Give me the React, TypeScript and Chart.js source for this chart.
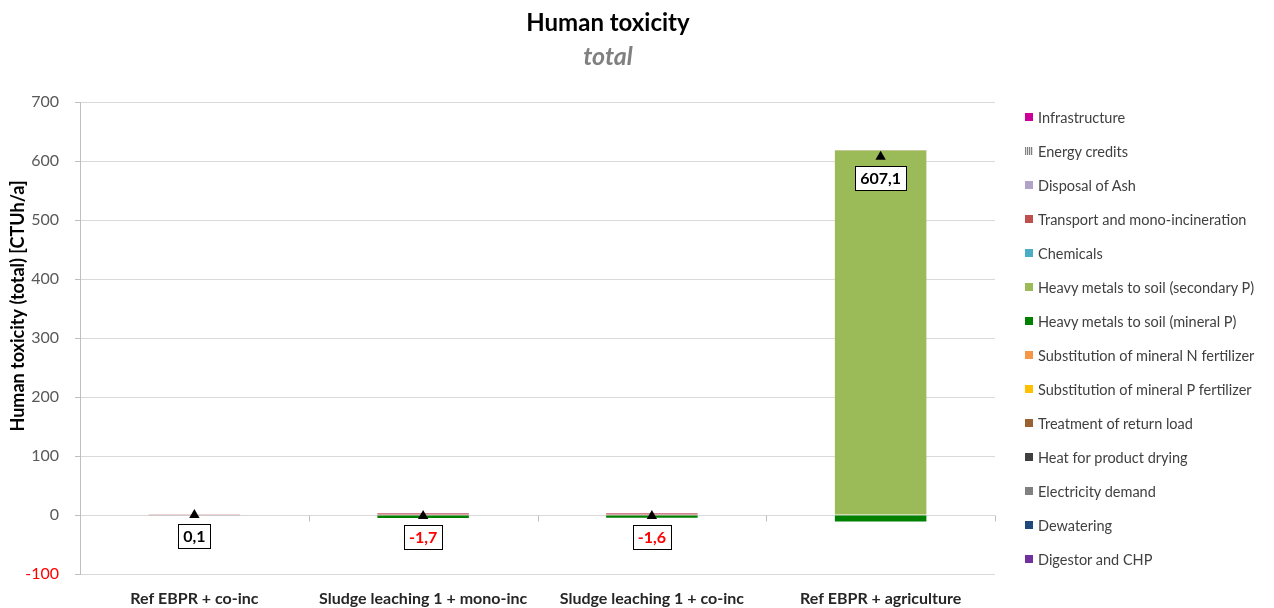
import React, { useEffect, useRef } from "react";
import { Chart, registerables } from "chart.js";

Chart.register(...registerables);

const categories = [
  "Ref EBPR + co-inc",
  "Sludge leaching 1 + mono-inc",
  "Sludge leaching 1 + co-inc",
  "Ref EBPR + agriculture",
];

// Stack order (bottom series first)
const digestorCHP = [0, 0, 0, 0];
const dewatering = [0, 0, 0, 0];
const electricityDemand = [0, 0, 0, 0];
const heatProductDrying = [0, 0, 0, 0];
const treatmentReturnLoad = [0, 0, 0, 0];
const substitutionP = [0, 0, 0, 0];
const substitutionN = [0, 0, 0, 0];
const heavyMetalsMineral = [0, -5.0, -4.8, -11.2];
const heavyMetalsSecondary = [0, 0, 0, 618.0];
const chemicals = [0, 0, 0, 0];
const transportMonoInc = [0.4, 2.6, 2.5, 0.3];
const disposalAsh = [0, 0.3, 0.3, 0];
const energyCredits = [-0.3, 0, 0, 0];
const infrastructure = [0, 0.4, 0.4, 0];

const totals = [0.1, -1.7, -1.6, 607.1];

const yMin = -100;
const yMax = 700;
const yStep = 100;

const series = [
  { name: "Digestor and CHP", data: digestorCHP, color: "#7030A0" },
  { name: "Dewatering", data: dewatering, color: "#1F497D" },
  { name: "Electricity demand", data: electricityDemand, color: "#808080" },
  { name: "Heat for product drying", data: heatProductDrying, color: "#404040" },
  { name: "Treatment of return load", data: treatmentReturnLoad, color: "#9A6232" },
  { name: "Substitution of mineral P fertilizer", data: substitutionP, color: "#FFC000" },
  { name: "Substitution of mineral N fertilizer", data: substitutionN, color: "#F79646" },
  { name: "Heavy metals to soil (mineral P)", data: heavyMetalsMineral, color: "#008000" },
  { name: "Heavy metals to soil (secondary P)", data: heavyMetalsSecondary, color: "#9BBB59" },
  { name: "Chemicals", data: chemicals, color: "#4BACC6" },
  { name: "Transport and mono-incineration", data: transportMonoInc, color: "#C0504D" },
  { name: "Disposal of Ash", data: disposalAsh, color: "#B3A2C7" },
  { name: "Energy credits", data: energyCredits, color: "#A6A6A6" },
  { name: "Infrastructure", data: infrastructure, color: "#CC0099" },
];

const yAxisTitle = "Human toxicity (total) [CTUh/a]";

const FONT = "Lato, 'Open Sans', sans-serif";

const fmt = (v: number) => v.toFixed(1).replace(".", ",");

const totalLabels = {
  id: "totalLabels",
  afterDatasetsDraw(chart: any) {
    const idx = chart.data.datasets.findIndex((d: any) => d.type === "line");
    if (idx < 0) return;
    const meta = chart.getDatasetMeta(idx);
    const ctx = chart.ctx;
    ctx.save();
    ctx.font = `bold 16px ${FONT}`;
    meta.data.forEach((pt: any, i: number) => {
      const v = totals[i];
      const text = fmt(v);
      const w = Math.round(ctx.measureText(text).width + 10);
      const h = 24;
      const x = Math.round(pt.x - w / 2);
      const y = Math.round(pt.y + 9);
      ctx.fillStyle = "#ffffff";
      ctx.fillRect(x, y, w, h);
      ctx.strokeStyle = "#000000";
      ctx.lineWidth = 1;
      ctx.strokeRect(x + 0.5, y + 0.5, w, h);
      ctx.fillStyle = v < 0 ? "#FF0000" : "#000000";
      ctx.textAlign = "center";
      ctx.textBaseline = "middle";
      ctx.fillText(text, pt.x, y + h / 2 + 1);
    });
    ctx.restore();
  },
};

const zeroTicks = {
  id: "zeroTicks",
  beforeDatasetsDraw(chart: any) {
    const xs = chart.scales.x;
    const y0 = Math.round(chart.scales.y.getPixelForValue(0)) + 0.5;
    const n = categories.length;
    const ctx = chart.ctx;
    ctx.save();
    ctx.strokeStyle = "#BFBFBF";
    ctx.lineWidth = 1;
    for (let i = 0; i <= n; i++) {
      const px = Math.round(xs.left + ((xs.right - xs.left) * i) / n) + 0.5;
      ctx.beginPath();
      ctx.moveTo(px, y0);
      ctx.lineTo(px, y0 + 6);
      ctx.stroke();
    }
    ctx.restore();
  },
};

const yTitlePlugin = {
  id: "yTitlePlugin",
  afterDraw(chart: any) {
    const area = chart.chartArea;
    const ctx = chart.ctx;
    ctx.save();
    ctx.font = `bold 18px ${FONT}`;
    ctx.fillStyle = "#000000";
    ctx.textAlign = "center";
    ctx.textBaseline = "middle";
    ctx.translate(18, (area.top + area.bottom) / 2 - 32);
    ctx.rotate(-Math.PI / 2);
    ctx.fillText(yAxisTitle, 0, 0);
    ctx.restore();
  },
};

export default function App() {
  const canvasRef = useRef<HTMLCanvasElement | null>(null);

  useEffect(() => {
    if (!canvasRef.current) return;
    const datasets: any[] = series.map((s) => ({
      type: "bar",
      label: s.name,
      data: s.data,
      backgroundColor: s.color,
      borderWidth: 0,
      categoryPercentage: 1,
      barPercentage: 0.4,
      stack: "bars",
      order: 2,
    }));
    datasets.push({
      type: "line",
      label: "Total",
      data: totals,
      showLine: false,
      pointStyle: "triangle",
      pointRadius: 6,
      pointBackgroundColor: "#000000",
      pointBorderColor: "#000000",
      pointBorderWidth: 0,
      order: 0,
    });

    const chart = new Chart(canvasRef.current, {
      type: "bar",
      data: { labels: categories, datasets },
      options: {
        animation: false,
        responsive: true,
        maintainAspectRatio: false,
        layout: { padding: { top: 102, right: 279, bottom: 0, left: 0 } },
        plugins: {
          legend: { display: false },
          tooltip: { enabled: false },
          title: { display: false },
        },
        scales: {
          x: {
            stacked: true,
            grid: { display: false, drawTicks: false },
            border: { display: false },
            ticks: {
              padding: 15,
              color: "#262626",
              font: { family: FONT, size: 16, weight: "bold" },
              maxRotation: 0,
            },
            afterFit: (scale: any) => {
              scale.height = 34;
            },
          },
          y: {
            stacked: true,
            min: yMin,
            max: yMax,
            ticks: {
              stepSize: yStep,
              padding: 16,
              color: (ctx: any) => (ctx.tick && ctx.tick.value < 0 ? "#FF0000" : "#595959"),
              font: { family: FONT, size: 16 },
            },
            grid: { color: "#D9D9D9", tickLength: 5, tickColor: "#BFBFBF" },
            border: { color: "#BFBFBF" },
            title: { display: false },
            afterFit: (scale: any) => {
              scale.width = 80;
            },
          },
        },
      },
      plugins: [zeroTicks, totalLabels, yTitlePlugin],
    } as any);
    return () => chart.destroy();
  }, []);

  const legendItems = [...series].reverse();

  return (
    <div
      style={{
        position: "fixed",
        left: 0,
        top: 0,
        width: 1274,
        height: 608,
        background: "#ffffff",
        fontFamily: FONT,
      }}
    >
      <canvas ref={canvasRef} style={{ position: "absolute", left: 0, top: 0 }} />
      <div
        style={{
          position: "absolute",
          left: 408,
          width: 400,
          top: 7,
          textAlign: "center",
          fontWeight: "bold",
          fontSize: 24,
          lineHeight: "30px",
          color: "#000000",
        }}
      >
        Human toxicity
      </div>
      <div
        style={{
          position: "absolute",
          left: 408,
          width: 400,
          top: 40,
          textAlign: "center",
          fontWeight: "bold",
          fontStyle: "italic",
          fontSize: 25,
          lineHeight: "30px",
          color: "#808080",
        }}
      >
        total
      </div>
      <div style={{ position: "absolute", left: 1025, top: 100 }}>
        {legendItems.map((s, i) => (
          <div
            key={s.name}
            style={{
              position: "absolute",
              top: i * 34,
              left: 0,
              height: 34,
              display: "flex",
              alignItems: "center",
              whiteSpace: "nowrap",
              fontSize: 14.5,
              color: "#404040",
            }}
          >
            <span
              style={{
                display: "inline-block",
                width: 8,
                height: 8,
                marginRight: 5,
                background:
                  s.name === "Energy credits"
                    ? "repeating-linear-gradient(90deg, #808080 0px, #808080 1px, #E0E0E0 1px, #E0E0E0 2px)"
                    : s.color,
              }}
            />
            <span>{s.name}</span>
          </div>
        ))}
      </div>
    </div>
  );
}
